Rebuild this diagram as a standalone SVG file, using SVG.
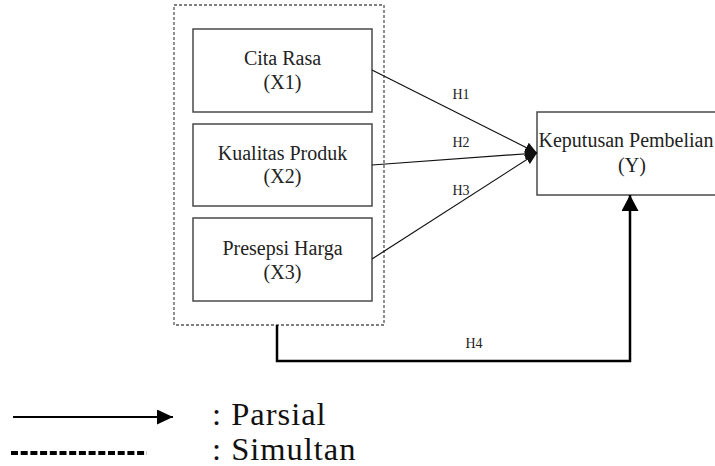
<svg xmlns="http://www.w3.org/2000/svg" width="715" height="466" viewBox="0 0 715 466">
<style>
.box{fill:#fff;stroke:#4a4a4a;stroke-width:1.5}
.grp{fill:none;stroke:#555;stroke-width:1.3;stroke-dasharray:3 2}
text{font-family:'Liberation Serif','Times New Roman','DejaVu Serif',serif}
.t{font-size:20px;fill:#222;text-anchor:middle}
.h{font-size:14px;fill:#222;text-anchor:middle}
.lg{font-size:32.5px;fill:#111;letter-spacing:1px}
.c{fill:none;stroke:#111;stroke-width:1.2}
.c4{fill:none;stroke:#000;stroke-width:2.5}
</style>
<defs>
<marker id="a1" markerUnits="userSpaceOnUse" markerWidth="12" markerHeight="11" refX="12" refY="5.5" orient="auto">
<path d="M0,0 L12,5.5 L0,11 z" fill="#111"/>
</marker>
<marker id="a2" markerUnits="userSpaceOnUse" markerWidth="16" markerHeight="17" refX="16" refY="8.5" orient="auto">
<path d="M0,0 L16,8.5 L0,17 z" fill="#000"/>
</marker>
<marker id="a3" markerUnits="userSpaceOnUse" markerWidth="16" markerHeight="15" refX="16" refY="7.5" orient="auto">
<path d="M0,0 L16,7.5 L0,15 z" fill="#000"/>
</marker>
</defs>
<g id="group-x">
<rect class="grp" x="174" y="5" width="210" height="320"/>
</g>
<g id="x1">
<rect class="box" x="193" y="29" width="179" height="83"/>
<text class="t" x="282.5" y="65">Cita Rasa</text>
<text class="t" x="282.5" y="89">(X1)</text>
</g>
<g id="x2">
<rect class="box" x="193" y="124" width="179" height="82"/>
<text class="t" x="282.5" y="160">Kualitas Produk</text>
<text class="t" x="282.5" y="183">(X2)</text>
</g>
<g id="x3">
<rect class="box" x="193" y="218" width="179" height="83"/>
<text class="t" x="282.5" y="255">Presepsi Harga</text>
<text class="t" x="282.5" y="279">(X3)</text>
</g>
<g id="y">
<rect class="box" x="537" y="112" width="200" height="83"/>
<text class="t" x="626" y="147" font-size="19.5">Keputusan Pembelian</text>
<text class="t" x="632" y="172">(Y)</text>
</g>
<g id="connectors">
<line class="c" x1="372" y1="70" x2="537" y2="153" marker-end="url(#a1)"/>
<line class="c" x1="372" y1="165" x2="537" y2="153" marker-end="url(#a1)"/>
<line class="c" x1="372" y1="259" x2="537" y2="153" marker-end="url(#a1)"/>
<path class="c4" d="M277,325 V361 H630 V195" marker-end="url(#a2)"/>
<text class="h" x="461" y="99">H1</text>
<text class="h" x="461" y="147">H2</text>
<text class="h" x="461" y="195">H3</text>
<text class="h" x="474" y="348">H4</text>
</g>
<g id="legend">
<line x1="13" y1="417" x2="173" y2="417" stroke="#000" stroke-width="2" marker-end="url(#a3)"/>
<line x1="11" y1="453" x2="147" y2="453" stroke="#000" stroke-width="4" stroke-dasharray="7 2.7"/>
<text class="lg" x="212" y="425">: Parsial</text>
<text class="lg" x="212" y="460">: Simultan</text>
</g>
</svg>
